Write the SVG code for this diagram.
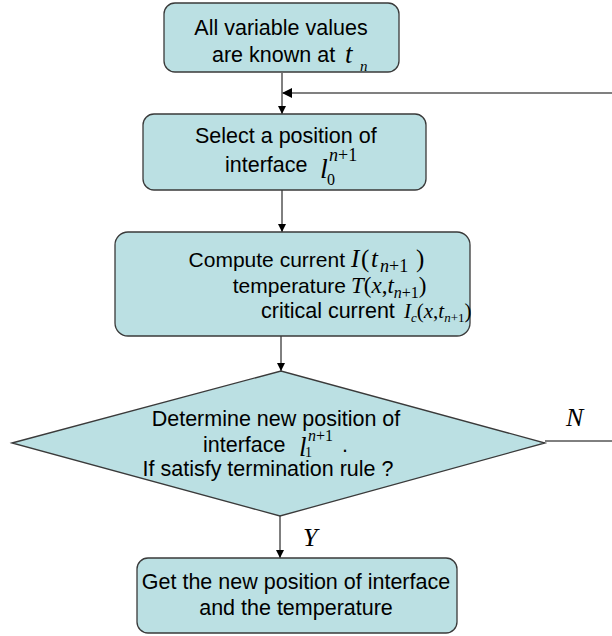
<svg xmlns="http://www.w3.org/2000/svg" width="612" height="636" viewBox="0 0 612 636">
  <defs>
    <marker id="arrow" markerWidth="8" markerHeight="8" refX="8" refY="4" orient="auto" markerUnits="userSpaceOnUse">
      <path d="M0,0 L8,4 L0,8 Z" fill="#000"/>
    </marker>
    <marker id="arrowBig" markerWidth="10" markerHeight="10" refX="9" refY="5" orient="auto" markerUnits="userSpaceOnUse">
      <path d="M0,0 L10,5 L0,10 Z" fill="#000"/>
    </marker>
  </defs>
  <style>
    .box { fill: #bbe0e3; stroke: #3a3a3a; stroke-width: 1.3; }
    .lbl { font-family: "Liberation Sans", Arial, sans-serif; font-size: 21.5px; fill: #000; }
    .mth { font-family: "Liberation Serif", "Times New Roman", serif; font-size: 25px; fill: #000; }
    .it { font-style: italic; }
    .conn { stroke: #000; stroke-width: 1; fill: none; }
    .loop { stroke: #808080; stroke-width: 2; fill: none; }
  </style>

  <!-- connectors -->
  <g id="connectors">
    <line class="conn" x1="282" y1="73" x2="282" y2="114" marker-end="url(#arrow)"/>
    <line class="loop" x1="612" y1="93" x2="283" y2="93" marker-end="url(#arrowBig)"/>
    <line class="conn" x1="282" y1="190" x2="282" y2="232" marker-end="url(#arrow)"/>
    <line class="conn" x1="281" y1="336" x2="281" y2="371" marker-end="url(#arrow)"/>
    <line class="conn" x1="545" y1="441" x2="612" y2="441"/>
    <line class="conn" x1="280" y1="516" x2="280" y2="558" marker-end="url(#arrow)"/>
    <text class="mth it" x="566" y="426" style="font-size:26px">N</text>
    <text class="mth it" x="303" y="546" style="font-size:26px">Y</text>
  </g>

  <!-- start: known values -->
  <g id="known">
    <rect class="box" x="164" y="3" width="235" height="69" rx="11"/>
    <text class="lbl" x="281" y="35" text-anchor="middle">All variable values</text>
    <text class="lbl" x="212" y="62">are known at</text>
    <text class="mth it" x="345" y="63" style="font-size:27px">t<tspan x="360" dy="8" style="font-size:15px">n</tspan></text>
  </g>

  <!-- select interface position -->
  <g id="select">
    <rect class="box" x="143" y="114" width="283" height="76" rx="11"/>
    <text class="lbl" x="195" y="143">Select a position of</text>
    <text class="lbl" x="225" y="172">interface</text>
    <text class="mth" x="320" y="178" style="font-size:28px"><tspan class="it">l</tspan><tspan x="329" dy="-17" style="font-size:18px"><tspan class="it">n</tspan>+1</tspan><tspan x="327" dy="24" style="font-size:16px">0</tspan></text>
  </g>

  <!-- compute current / temperature / critical current -->
  <g id="compute">
    <rect class="box" x="115" y="232" width="355" height="104" rx="13"/>
    <text class="lbl" x="345" y="267" text-anchor="end" style="font-size:21px">Compute current</text>
    <text class="mth" x="351" y="267"><tspan class="it">I</tspan><tspan x="361">(</tspan><tspan class="it" x="371">t</tspan><tspan class="it" x="380" dy="5" style="font-size:18px">n</tspan><tspan style="font-size:18px">+1</tspan><tspan x="416" dy="-5">)</tspan></text>
    <text class="lbl" x="346" y="293" text-anchor="end" style="font-size:21px">temperature</text>
    <text class="mth" x="351" y="293" style="font-size:23px"><tspan class="it">T</tspan>(<tspan class="it">x</tspan>,<tspan class="it">t</tspan><tspan class="it" dy="5" style="font-size:16px">n</tspan><tspan style="font-size:16px">+1</tspan><tspan dy="-5">)</tspan></text>
    <text class="lbl" x="261" y="318">critical current</text>
    <text class="mth" x="404" y="318" style="font-size:21px"><tspan class="it">I</tspan><tspan class="it" dy="4" style="font-size:13px">c</tspan><tspan dy="-4">(</tspan><tspan class="it">x</tspan>,<tspan class="it">t</tspan><tspan class="it" dy="4" style="font-size:13px">n</tspan><tspan style="font-size:13px">+1</tspan><tspan dy="-4">)</tspan></text>
  </g>

  <!-- termination test -->
  <g id="decision">
    <polygon class="box" points="12,443 281,371 545,443 280,516"/>
    <text class="lbl" x="276" y="426" text-anchor="middle">Determine new position of</text>
    <text class="lbl" x="203" y="452">interface</text>
    <text class="mth" x="299" y="456" style="font-size:27px"><tspan class="it">l</tspan><tspan x="308" dy="-15" style="font-size:16px"><tspan class="it">n</tspan>+1</tspan><tspan x="305" dy="16" style="font-size:14px">1</tspan></text>
    <text class="lbl" x="342" y="452">.</text>
    <text class="lbl" x="268" y="476" text-anchor="middle">If satisfy termination rule ?</text>
  </g>

  <!-- result -->
  <g id="result">
    <rect class="box" x="137" y="558" width="320" height="75" rx="11"/>
    <text class="lbl" x="296" y="589" text-anchor="middle">Get the new position of interface</text>
    <text class="lbl" x="296" y="615" text-anchor="middle">and the temperature</text>
  </g>
</svg>
